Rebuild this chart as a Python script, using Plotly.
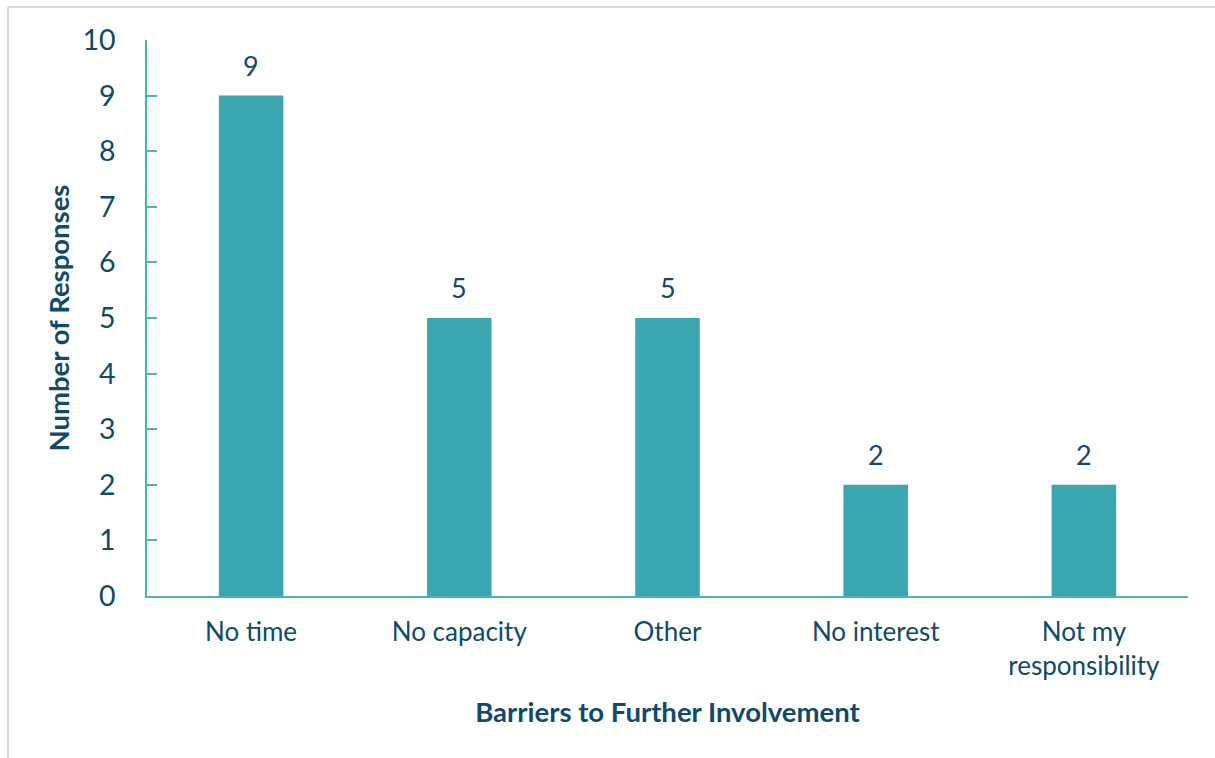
import plotly.graph_objects as go

categories = ["No time", "No capacity", "Other", "No interest", "Not my<br>responsibility"]
responses = [9, 5, 5, 2, 2]
y_ticks = list(range(0, 11))

W, H = 1215, 758
ML, MR, MT, MB = 147, 27, 40, 162
PW, PH = W - ML - MR, H - MT - MB

TEXT = "#0F4A6A"
BAR = "#3AA6B0"
AXIS = "#4FB1B9"
FONT = "Lato, 'Open Sans', sans-serif"

fig = go.Figure(
    go.Bar(
        x=categories,
        y=responses,
        marker=dict(color=BAR, line=dict(width=0)),
        hoverinfo="x+y",
    )
)

# value labels above each bar
for cat, val in zip(categories, responses):
    fig.add_annotation(
        x=cat, y=val, text=str(val), showarrow=False,
        yanchor="bottom", yshift=12,
        font=dict(size=27, color=TEXT, family=FONT),
    )

# thin grey frame on the top and left edges of the chart area
def px_to_paper_x(px):
    return (px - ML) / PW

def px_to_paper_y(py):
    return (H - MB - py) / PH

frame = dict(color="#D9D9D9", width=2)
fig.add_shape(type="line", xref="paper", yref="paper",
              x0=px_to_paper_x(8), x1=px_to_paper_x(W + 5),
              y0=px_to_paper_y(7), y1=px_to_paper_y(7), line=frame)
fig.add_shape(type="line", xref="paper", yref="paper",
              x0=px_to_paper_x(8), x1=px_to_paper_x(8),
              y0=px_to_paper_y(7), y1=px_to_paper_y(H + 5), line=frame)

fig.update_layout(
    width=W,
    height=H,
    margin=dict(l=ML, r=MR, t=MT, b=MB, pad=0),
    paper_bgcolor="white",
    plot_bgcolor="white",
    bargap=0.69,
    showlegend=False,
    font=dict(family=FONT, color=TEXT),
    xaxis=dict(
        showline=True,
        linecolor=AXIS,
        linewidth=1.5,
        ticks="",
        showgrid=False,
        tickfont=dict(size=26, color=TEXT),
        ticklabelstandoff=12,
        title=dict(text="<b>Barriers to Further Involvement</b>",
                   font=dict(size=27.5, color=TEXT), standoff=23),
    ),
    yaxis=dict(
        range=[0, 10],
        tickvals=y_ticks,
        showline=True,
        linecolor=AXIS,
        linewidth=1.5,
        ticks="inside",
        ticklen=10,
        tickwidth=1.5,
        tickcolor=AXIS,
        showgrid=False,
        zeroline=False,
        tickfont=dict(size=28.5, color=TEXT),
        ticklabelstandoff=24,
        title=dict(text="<b>Number of Responses</b>",
                   font=dict(size=27.5, color=TEXT), standoff=5),
    ),
)

fig.write_html("out.html")
